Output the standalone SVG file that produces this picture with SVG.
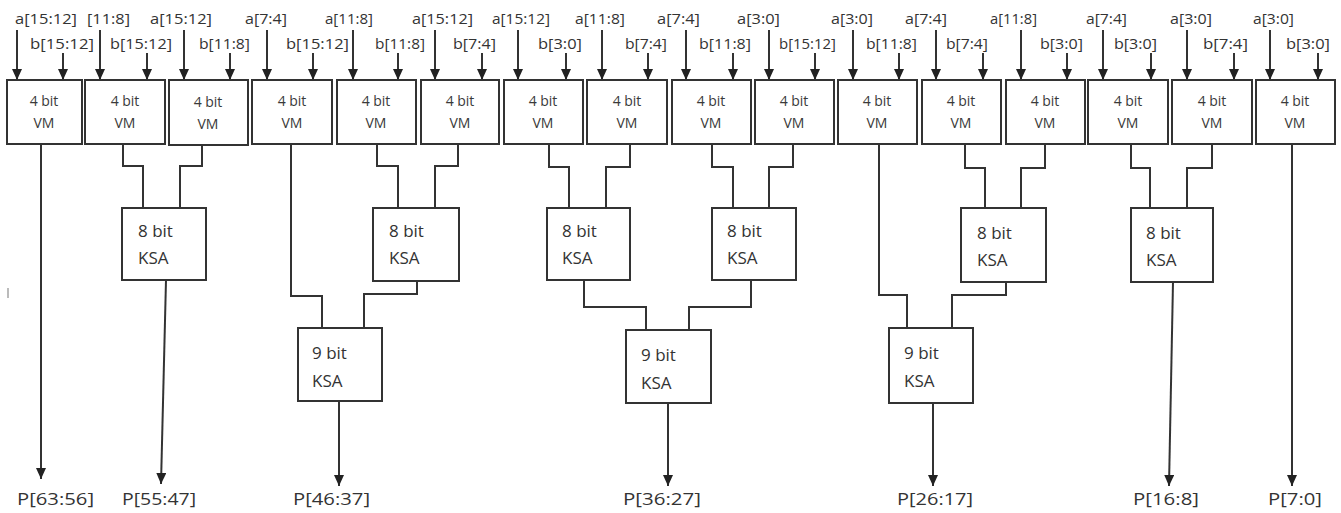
<svg xmlns="http://www.w3.org/2000/svg" width="1341" height="513" viewBox="0 0 1341 513">
<style>
.bg{fill:#ffffff}
.box{fill:#ffffff;stroke:#333333;stroke-width:2}
.ln{fill:none;stroke:#333333;stroke-width:2}
.arr{fill:none;stroke:#333333;stroke-width:2;marker-end:url(#ah)}
.lbl{font-family:"Open Sans","Liberation Sans",sans-serif;font-size:14px;fill:#333333}
.vm{font-family:"Open Sans","Liberation Sans",sans-serif;font-size:14px;fill:#3a3a3a;text-anchor:middle}
.ksa{font-family:"Open Sans","Liberation Sans",sans-serif;font-size:17px;fill:#333333}
.out{font-family:"Open Sans","Liberation Sans",sans-serif;font-size:16px;fill:#333333}
</style>
<defs>
<marker id="ah" markerUnits="userSpaceOnUse" markerWidth="11" markerHeight="10" refX="11" refY="5" orient="auto">
<path d="M0,0 L11,5 L0,10 Z" fill="#222222"/>
</marker>
</defs>
<rect class="bg" x="0" y="0" width="1341" height="513"/>

<g id="inputs">
<text class="lbl" x="15" y="24" textLength="62" lengthAdjust="spacingAndGlyphs">a[15:12]</text>
<text class="lbl" x="87" y="24" textLength="43" lengthAdjust="spacingAndGlyphs">[11:8]</text>
<text class="lbl" x="150" y="24" textLength="62" lengthAdjust="spacingAndGlyphs">a[15:12]</text>
<text class="lbl" x="245" y="24" textLength="42" lengthAdjust="spacingAndGlyphs">a[7:4]</text>
<text class="lbl" x="325" y="24" textLength="48" lengthAdjust="spacingAndGlyphs">a[11:8]</text>
<text class="lbl" x="412" y="24" textLength="61" lengthAdjust="spacingAndGlyphs">a[15:12]</text>
<text class="lbl" x="492" y="24" textLength="58" lengthAdjust="spacingAndGlyphs">a[15:12]</text>
<text class="lbl" x="575" y="24" textLength="50" lengthAdjust="spacingAndGlyphs">a[11:8]</text>
<text class="lbl" x="657" y="24" textLength="43" lengthAdjust="spacingAndGlyphs">a[7:4]</text>
<text class="lbl" x="737" y="24" textLength="43" lengthAdjust="spacingAndGlyphs">a[3:0]</text>
<text class="lbl" x="831" y="24" textLength="42" lengthAdjust="spacingAndGlyphs">a[3:0]</text>
<text class="lbl" x="905" y="24" textLength="42" lengthAdjust="spacingAndGlyphs">a[7:4]</text>
<text class="lbl" x="990" y="24" textLength="47" lengthAdjust="spacingAndGlyphs">a[11:8]</text>
<text class="lbl" x="1086" y="24" textLength="41" lengthAdjust="spacingAndGlyphs">a[7:4]</text>
<text class="lbl" x="1170" y="24" textLength="42" lengthAdjust="spacingAndGlyphs">a[3:0]</text>
<text class="lbl" x="1253" y="24" textLength="41" lengthAdjust="spacingAndGlyphs">a[3:0]</text>

<text class="lbl" x="30" y="49" textLength="64" lengthAdjust="spacingAndGlyphs">b[15:12]</text>
<text class="lbl" x="110" y="49" textLength="62" lengthAdjust="spacingAndGlyphs">b[15:12]</text>
<text class="lbl" x="199" y="49" textLength="51" lengthAdjust="spacingAndGlyphs">b[11:8]</text>
<text class="lbl" x="286" y="49" textLength="63" lengthAdjust="spacingAndGlyphs">b[15:12]</text>
<text class="lbl" x="375" y="49" textLength="50" lengthAdjust="spacingAndGlyphs">b[11:8]</text>
<text class="lbl" x="453" y="49" textLength="43" lengthAdjust="spacingAndGlyphs">b[7:4]</text>
<text class="lbl" x="538" y="49" textLength="44" lengthAdjust="spacingAndGlyphs">b[3:0]</text>
<text class="lbl" x="625" y="49" textLength="42" lengthAdjust="spacingAndGlyphs">b[7:4]</text>
<text class="lbl" x="699" y="49" textLength="52" lengthAdjust="spacingAndGlyphs">b[11:8]</text>
<text class="lbl" x="779" y="49" textLength="57" lengthAdjust="spacingAndGlyphs">b[15:12]</text>
<text class="lbl" x="866" y="49" textLength="51" lengthAdjust="spacingAndGlyphs">b[11:8]</text>
<text class="lbl" x="946" y="49" textLength="42" lengthAdjust="spacingAndGlyphs">b[7:4]</text>
<text class="lbl" x="1040" y="49" textLength="43" lengthAdjust="spacingAndGlyphs">b[3:0]</text>
<text class="lbl" x="1114" y="49" textLength="43" lengthAdjust="spacingAndGlyphs">b[3:0]</text>
<text class="lbl" x="1203" y="49" textLength="45" lengthAdjust="spacingAndGlyphs">b[7:4]</text>
<text class="lbl" x="1286" y="49" textLength="44" lengthAdjust="spacingAndGlyphs">b[3:0]</text>
</g>

<g id="connectors">
<path class="arr" d="M17 30 V80"/><path class="arr" d="M63 53 V80"/>
<path class="arr" d="M100 30 V80"/><path class="arr" d="M147 53 V80"/>
<path class="arr" d="M184 30 V80"/><path class="arr" d="M230 53 V80"/>
<path class="arr" d="M267 30 V80"/><path class="arr" d="M313 53 V80"/>
<path class="arr" d="M353 30 V80"/><path class="arr" d="M398 53 V80"/>
<path class="arr" d="M435 30 V80"/><path class="arr" d="M482 53 V80"/>
<path class="arr" d="M518 30 V80"/><path class="arr" d="M566 53 V80"/>
<path class="arr" d="M602 30 V80"/><path class="arr" d="M648 53 V80"/>
<path class="arr" d="M686 30 V80"/><path class="arr" d="M733 53 V80"/>
<path class="arr" d="M769 30 V80"/><path class="arr" d="M815 53 V80"/>
<path class="arr" d="M853 30 V80"/><path class="arr" d="M899 53 V80"/>
<path class="arr" d="M936 30 V80"/><path class="arr" d="M983 53 V80"/>
<path class="arr" d="M1021 30 V80"/><path class="arr" d="M1067 53 V80"/>
<path class="arr" d="M1103 30 V80"/><path class="arr" d="M1151 53 V80"/>
<path class="arr" d="M1187 30 V80"/><path class="arr" d="M1234 53 V80"/>
<path class="arr" d="M1270 30 V80"/><path class="arr" d="M1318 53 V80"/>

<path class="arr" d="M41 144 V479"/>
<path class="ln" d="M123 144 V166 H143 V208"/>
<path class="ln" d="M202 144 V166 H180 V208"/>
<path class="arr" d="M166 280 L161 484"/>
<path class="ln" d="M291 144 V296 H322 V328"/>
<path class="ln" d="M377 144 V166 H398 V208"/>
<path class="ln" d="M458 144 V166 H435 V208"/>
<path class="ln" d="M417 281 V294 H364 V328"/>
<path class="arr" d="M339 401 V486"/>
<path class="ln" d="M549 144 V167 H569 V208"/>
<path class="ln" d="M630 144 V167 H606 V208"/>
<path class="ln" d="M584 280 V307 H646 V330"/>
<path class="ln" d="M712 144 V167 H733 V208"/>
<path class="ln" d="M793 144 V167 H769 V208"/>
<path class="ln" d="M751 280 V307 H689 V330"/>
<path class="arr" d="M668 403 V486"/>
<path class="ln" d="M879 144 V295 H907 V328"/>
<path class="ln" d="M965 144 V168 H985 V208"/>
<path class="ln" d="M1045 144 V168 H1021 V208"/>
<path class="ln" d="M1006 282 V295 H952 V328"/>
<path class="arr" d="M933 403 V486"/>
<path class="ln" d="M1131 144 V168 H1150 V208"/>
<path class="ln" d="M1212 144 V168 H1187 V208"/>
<path class="arr" d="M1173 282 L1169 486"/>
<path class="arr" d="M1292 144 V486"/>
<path d="M8 288 V298" stroke="#bbbbbb" stroke-width="2"/>
</g>

<g id="vm1"><rect class="box" x="7" y="80" width="75" height="64"/><text class="vm" x="44" y="106">4 bit</text><text class="vm" x="44" y="128">VM</text></g>
<g id="vm2"><rect class="box" x="85" y="80" width="80" height="64"/><text class="vm" x="125" y="106">4 bit</text><text class="vm" x="125" y="128">VM</text></g>
<g id="vm3"><rect class="box" x="169" y="80" width="79" height="65"/><text class="vm" x="208" y="107">4 bit</text><text class="vm" x="208" y="129">VM</text></g>
<g id="vm4"><rect class="box" x="252" y="80" width="80" height="64"/><text class="vm" x="292" y="106">4 bit</text><text class="vm" x="292" y="128">VM</text></g>
<g id="vm5"><rect class="box" x="337" y="80" width="79" height="64"/><text class="vm" x="376" y="106">4 bit</text><text class="vm" x="376" y="128">VM</text></g>
<g id="vm6"><rect class="box" x="421" y="80" width="78" height="64"/><text class="vm" x="460" y="106">4 bit</text><text class="vm" x="460" y="128">VM</text></g>
<g id="vm7"><rect class="box" x="504" y="80" width="79" height="64"/><text class="vm" x="543" y="106">4 bit</text><text class="vm" x="543" y="128">VM</text></g>
<g id="vm8"><rect class="box" x="587" y="80" width="80" height="64"/><text class="vm" x="627" y="106">4 bit</text><text class="vm" x="627" y="128">VM</text></g>
<g id="vm9"><rect class="box" x="672" y="80" width="79" height="64"/><text class="vm" x="711" y="106">4 bit</text><text class="vm" x="711" y="128">VM</text></g>
<g id="vm10"><rect class="box" x="755" y="80" width="79" height="64"/><text class="vm" x="794" y="106">4 bit</text><text class="vm" x="794" y="128">VM</text></g>
<g id="vm11"><rect class="box" x="838" y="80" width="79" height="64"/><text class="vm" x="877" y="106">4 bit</text><text class="vm" x="877" y="128">VM</text></g>
<g id="vm12"><rect class="box" x="922" y="80" width="79" height="64"/><text class="vm" x="961" y="106">4 bit</text><text class="vm" x="961" y="128">VM</text></g>
<g id="vm13"><rect class="box" x="1006" y="80" width="79" height="64"/><text class="vm" x="1045" y="106">4 bit</text><text class="vm" x="1045" y="128">VM</text></g>
<g id="vm14"><rect class="box" x="1088" y="80" width="80" height="64"/><text class="vm" x="1128" y="106">4 bit</text><text class="vm" x="1128" y="128">VM</text></g>
<g id="vm15"><rect class="box" x="1172" y="80" width="80" height="64"/><text class="vm" x="1212" y="106">4 bit</text><text class="vm" x="1212" y="128">VM</text></g>
<g id="vm16"><rect class="box" x="1256" y="80" width="79" height="64"/><text class="vm" x="1295" y="106">4 bit</text><text class="vm" x="1295" y="128">VM</text></g>

<g id="ksa8a"><rect class="box" x="122" y="208" width="84" height="72"/><text class="ksa" x="138" y="237">8 bit</text><text class="ksa" x="138" y="264">KSA</text></g>
<g id="ksa8b"><rect class="box" x="373" y="208" width="86" height="73"/><text class="ksa" x="389" y="237">8 bit</text><text class="ksa" x="389" y="264">KSA</text></g>
<g id="ksa8c"><rect class="box" x="547" y="208" width="83" height="72"/><text class="ksa" x="562" y="237">8 bit</text><text class="ksa" x="562" y="264">KSA</text></g>
<g id="ksa8d"><rect class="box" x="712" y="208" width="84" height="72"/><text class="ksa" x="727" y="237">8 bit</text><text class="ksa" x="727" y="264">KSA</text></g>
<g id="ksa8e"><rect class="box" x="961" y="208" width="85" height="74"/><text class="ksa" x="977" y="239">8 bit</text><text class="ksa" x="977" y="266">KSA</text></g>
<g id="ksa8f"><rect class="box" x="1131" y="208" width="82" height="74"/><text class="ksa" x="1146" y="239">8 bit</text><text class="ksa" x="1146" y="266">KSA</text></g>

<g id="ksa9a"><rect class="box" x="298" y="328" width="84" height="73"/><text class="ksa" x="312" y="359">9 bit</text><text class="ksa" x="312" y="387">KSA</text></g>
<g id="ksa9b"><rect class="box" x="626" y="330" width="85" height="73"/><text class="ksa" x="641" y="361">9 bit</text><text class="ksa" x="641" y="389">KSA</text></g>
<g id="ksa9c"><rect class="box" x="889" y="328" width="84" height="75"/><text class="ksa" x="904" y="359">9 bit</text><text class="ksa" x="904" y="387">KSA</text></g>

<g id="outputs">
<text class="out" x="17" y="505" textLength="77" lengthAdjust="spacingAndGlyphs">P[63:56]</text>
<text class="out" x="122" y="505" textLength="74" lengthAdjust="spacingAndGlyphs">P[55:47]</text>
<text class="out" x="293" y="505" textLength="77" lengthAdjust="spacingAndGlyphs">P[46:37]</text>
<text class="out" x="623" y="505" textLength="78" lengthAdjust="spacingAndGlyphs">P[36:27]</text>
<text class="out" x="897" y="505" textLength="76" lengthAdjust="spacingAndGlyphs">P[26:17]</text>
<text class="out" x="1133" y="505" textLength="66" lengthAdjust="spacingAndGlyphs">P[16:8]</text>
<text class="out" x="1268" y="505" textLength="54" lengthAdjust="spacingAndGlyphs">P[7:0]</text>
</g>
</svg>
